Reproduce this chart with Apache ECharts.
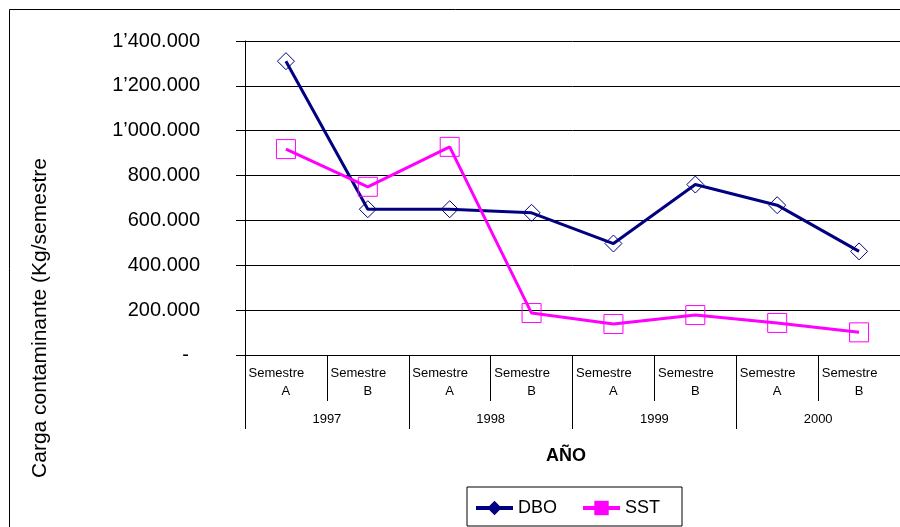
<!DOCTYPE html>
<html>
<head>
<meta charset="utf-8">
<script src="https://cdn.jsdelivr.net/npm/echarts@6/dist/echarts.min.js"></script>
<style>html,body{margin:0;padding:0;background:#fff;}#c{width:900px;height:527px;}</style>
</head>
<body>
<div id="c"></div>
<script>
const categories = ['Semestre A','Semestre B','Semestre A','Semestre B','Semestre A','Semestre B','Semestre A','Semestre B'];
const years = ['1997','1998','1999','2000'];
const dbo = [1310000, 650000, 650000, 634000, 497000, 760000, 668000, 462000];
const sst = [918000, 750000, 928000, 187000, 138000, 178000, 143000, 101000];
const yTicks = [0, 200000, 400000, 600000, 800000, 1000000, 1200000, 1400000];

const FONT = "'Liberation Sans', Arial, sans-serif";
const NAVY = '#000080';
const MAG = '#FF00FF';

function fmtY(v) {
  if (v === 0) return '-  ';
  const m = Math.floor(v / 1e6);
  const k = Math.round((v % 1e6) / 1000);
  if (m > 0) return m + '\u2019' + String(k).padStart(3, '0') + '.000';
  return k + '.000';
}

const chart = echarts.init(document.getElementById('c'), null, {renderer: 'canvas'});
chart.setOption({
  animation: false,
  backgroundColor: '#fff',
  textStyle: {fontFamily: FONT},
  grid: {left: 245, top: 41, right: 0, bottom: 172, containLabel: false},
  xAxis: [{
    type: 'category',
    data: categories,
    position: 'bottom',
    boundaryGap: true,
    axisLine: {show: true, lineStyle: {color: '#000', width: 1}},
    axisTick: {show: true, length: 46, interval: 0, lineStyle: {color: '#000', width: 1}},
    axisLabel: {
      interval: 0, margin: 9, color: '#000', fontFamily: FONT, fontSize: 13, lineHeight: 18,
      formatter: function (v) { const p = v.split(' '); return '{s|' + p[0] + '}\n{l|' + p[1] + '}'; },
      rich: {
        s: {fontFamily: FONT, fontSize: 13, lineHeight: 18, color: '#000', padding: [0, 19, 0, 0]},
        l: {fontFamily: FONT, fontSize: 13, lineHeight: 18, color: '#000'}
      }
    },
    splitLine: {show: false}
  }, {
    type: 'category',
    data: years,
    position: 'bottom',
    offset: 46,
    boundaryGap: true,
    axisLine: {show: false},
    axisTick: {show: true, length: 28, interval: 0, lineStyle: {color: '#000', width: 1}},
    axisLabel: {interval: 0, margin: 11, color: '#000', fontFamily: FONT, fontSize: 13, lineHeight: 15},
    splitLine: {show: false}
  }],
  yAxis: {
    type: 'value',
    min: yTicks[0],
    max: yTicks[yTicks.length - 1],
    interval: 200000,
    axisLine: {show: true, lineStyle: {color: '#000', width: 1}},
    axisTick: {show: true, length: 9, lineStyle: {color: '#000', width: 1}},
    axisLabel: {margin: 45, color: '#000', fontFamily: FONT, fontSize: 20, formatter: fmtY},
    splitLine: {show: true, lineStyle: {color: '#000', width: 1}}
  },
  legend: {
    left: 467, top: 487,
    orient: 'horizontal',
    borderColor: '#000', borderWidth: 1,
    padding: [12, 22, 9, 7],
    itemGap: 24, itemWidth: 37, itemHeight: 18,
    textStyle: {fontFamily: FONT, fontSize: 18, color: '#000'},
    data: [
      {name: 'DBO', itemStyle: {color: NAVY, borderWidth: 0}, lineStyle: {width: 4, color: NAVY}},
      {name: 'SST', itemStyle: {color: MAG, borderWidth: 0}, lineStyle: {width: 4, color: MAG}}
    ]
  },
  graphic: [
    {type: 'rect', silent: true, z: 100, shape: {x: 9.5, y: 9.5, width: 1000, height: 1000},
     style: {fill: 'none', stroke: '#000', lineWidth: 1}},
    {type: 'text', silent: true, x: 40, y: 318, rotation: Math.PI / 2,
     style: {text: 'Carga contaminante (Kg/semestre', fontFamily: FONT, fontSize: 21, fill: '#000',
             textAlign: 'center', textVerticalAlign: 'middle'}},
    {type: 'text', silent: true, x: 566, y: 456,
     style: {text: 'AÑO', fontFamily: FONT, fontSize: 18, fontWeight: 'bold', fill: '#000',
             textAlign: 'center', textVerticalAlign: 'middle'}}
  ],
  series: [{
    name: 'DBO', type: 'line', xAxisIndex: 0, data: dbo,
    color: NAVY,
    symbol: 'diamond', symbolSize: 17,
    lineStyle: {color: NAVY, width: 3},
    itemStyle: {color: 'rgba(0,0,0,0)', borderColor: NAVY, borderWidth: 1}
  }, {
    name: 'SST', type: 'line', xAxisIndex: 0, data: sst,
    color: MAG,
    symbol: 'rect', symbolSize: 19,
    lineStyle: {color: MAG, width: 3},
    itemStyle: {color: 'rgba(0,0,0,0)', borderColor: MAG, borderWidth: 1}
  }]
});
</script>
</body>
</html>
